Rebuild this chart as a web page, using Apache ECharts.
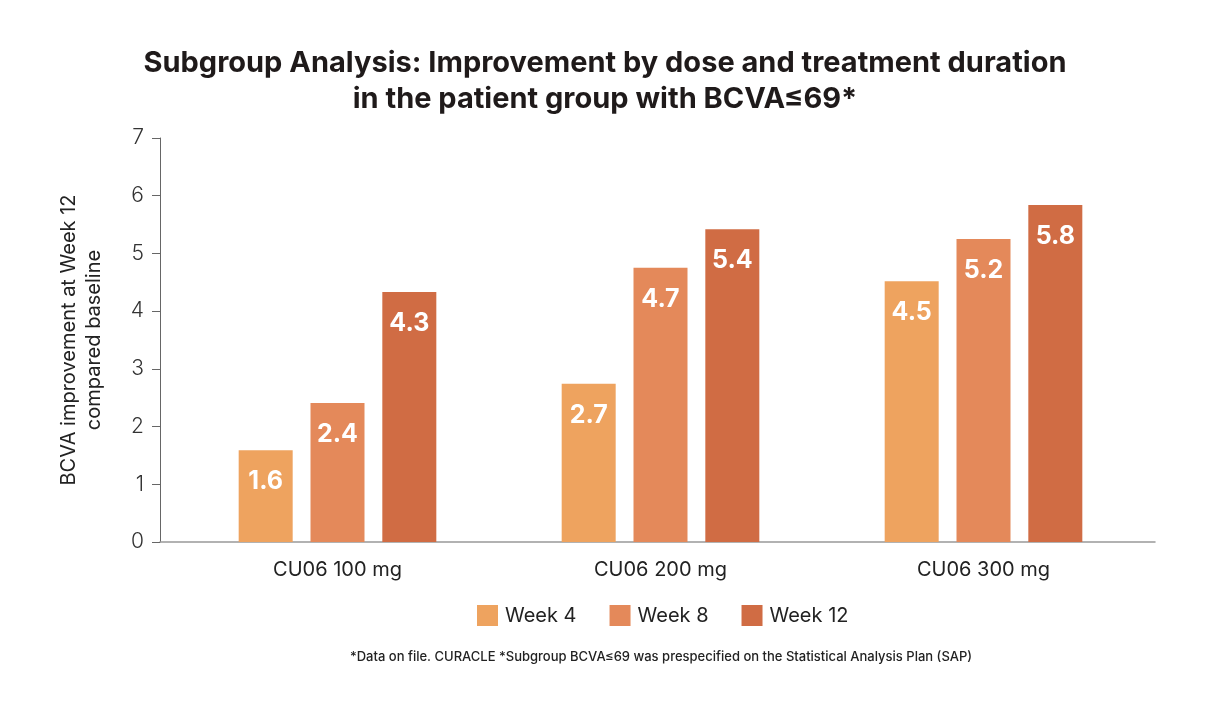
<!DOCTYPE html>
<html><head><meta charset="utf-8">
<script src="https://cdn.jsdelivr.net/npm/echarts@6/dist/echarts.min.js"></script>
<style>html,body{margin:0;padding:0;background:#fff}#c{width:1224px;height:712px}</style>
</head><body><div id="c"></div>
<script>
const categories = ['CU06 100 mg', 'CU06 200 mg', 'CU06 300 mg'];
const seriesNames = ['Week 4', 'Week 8', 'Week 12'];
const week4 = [1.59, 2.74, 4.52];
const week8 = [2.41, 4.75, 5.25];
const week12 = [4.33, 5.42, 5.84];
const week4Labels = ['1.6', '2.7', '4.5'];
const week8Labels = ['2.4', '4.7', '5.2'];
const week12Labels = ['4.3', '5.4', '5.8'];
const yTicks = [0, 1, 2, 3, 4, 5, 6, 7];
const colors = ['#EEA35F', '#E4895A', '#D06C44'];
const FONT = 'Inter, "Noto Sans", sans-serif';

const values = [week4, week8, week12];
const labels = [week4Labels, week8Labels, week12Labels];

const chart = echarts.init(document.getElementById('c'), null, {renderer: 'canvas'});
chart.setOption({
  backgroundColor: '#fff',
  animation: false,
  title: {
    text: 'Subgroup Analysis: Improvement by dose and treatment duration\nin the patient group with BCVA≤69*',
    left: 605, textAlign: 'center', top: 45, padding: 0,
    textStyle: {fontFamily: FONT, fontSize: 29, fontWeight: 'bold', color: '#1f1a1a', lineHeight: 36}
  },
  legend: {
    data: seriesNames, top: 605, left: 477, padding: 0,
    itemWidth: 21, itemHeight: 21, itemGap: 33, icon: 'rect',
    textStyle: {fontFamily: FONT, fontSize: 20, color: '#222', padding: [0,0,0,2]}
  },
  graphic: [{
    type: 'text', x: 661, y: 651,
    style: {text: '*Data on file. CURACLE *Subgroup BCVA≤69 was prespecified on the Statistical Analysis Plan (SAP)',
      font: '500 13px ' + FONT, fill: '#222', textAlign: 'center'}
  }],
  grid: [
    {left: 160, right: 69, top: 138, bottom: 170},
    {left: 176, right: 79, top: 138, bottom: 170}
  ],
  xAxis: [
    {gridIndex: 0, type: 'category', data: categories, axisLine: {lineStyle: {color: '#999', width: 1.5}},
     axisTick: {show: false}, axisLabel: {show: false}},
    {gridIndex: 1, type: 'category', data: categories, axisLine: {show: false}, axisTick: {show: false},
     axisLabel: {fontFamily: FONT, fontSize: 20, color: '#222', margin: 18}}
  ],
  yAxis: [
    {gridIndex: 0, type: 'value', min: 0, max: 7, interval: 1,
     name: 'BCVA improvement at Week 12\ncompared baseline', nameLocation: 'middle', nameGap: 54,
     nameTextStyle: {fontFamily: FONT, fontSize: 20, color: '#222', lineHeight: 25},
     axisLine: {show: true, lineStyle: {color: '#666', width: 1}},
     axisTick: {show: true, length: 8, lineStyle: {color: '#666'}},
     axisLabel: {fontFamily: FONT, fontSize: 21, color: '#333', margin: 16, fontWeight: 300},
     splitLine: {show: false}},
    {gridIndex: 1, type: 'value', min: 0, max: 7, interval: 1, show: false, splitLine: {show: false}}
  ],
  series: seriesNames.map((n, i) => ({
    name: n, type: 'bar', xAxisIndex: 1, yAxisIndex: 1,
    barWidth: 54, barGap: '33%', barCategoryGap: '38%',
    itemStyle: {color: colors[i]},
    data: values[i],
    label: {show: true, position: 'insideTop', distance: 19, color: '#fff', fontFamily: FONT,
      fontSize: 25, fontWeight: 'bold', formatter: p => labels[i][p.dataIndex]}
  }))
});
</script></body></html>
